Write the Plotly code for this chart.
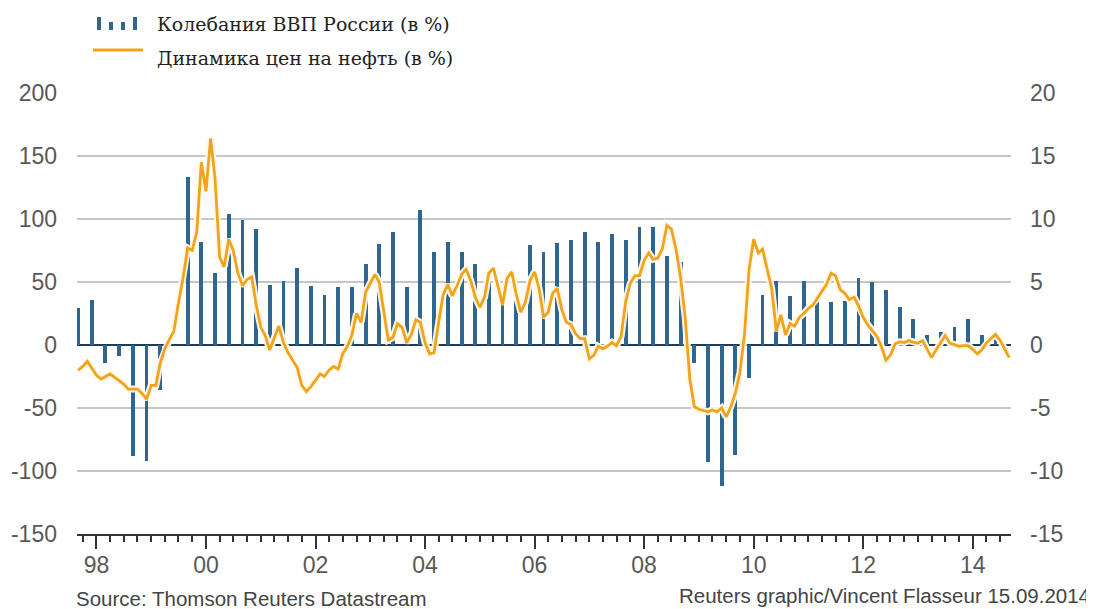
import pandas as pd
import plotly.graph_objects as go

# ---------------- data ----------------
# Quarterly Russian GDP change (%), Q3 1997 .. Q2 2014 (right axis)
gdp_start = "1997-09-01"
gdp_values = [
    2.9, 3.6,
    -1.4, -0.9, -8.8, -9.2,
    -3.6, 0.0, 13.3, 8.2,
    5.7, 10.4, 9.9, 9.2,
    4.8, 5.1, 6.1, 4.7,
    4.0, 4.6, 4.6, 6.4,
    8.0, 9.0, 4.6, 10.7,
    7.4, 8.2, 7.4, 6.4,
    5.0, 3.8, 3.5, 7.9,
    7.4, 8.1, 8.3, 9.0,
    8.2, 8.8, 8.3, 9.4,
    9.4, 7.1, 6.6, -1.4,
    -9.3, -11.2, -8.7, -2.6,
    4.0, 5.1, 3.9, 5.1,
    3.6, 3.4, 3.5, 5.3,
    5.0, 4.4, 3.0, 2.1,
    0.8, 1.0, 1.4, 2.1,
    0.8, 0.8,
]

# Monthly oil price change (%), Sep 1997 .. Sep 2014 (left axis)
oil_start = "1997-09-01"
oil_values = [
    -20, -17, -13, -18,
    -24, -27, -25, -23, -25.5, -28, -31, -35, -35, -35, -38.5, -43,
    -32, -32, -15, -3, 4, 11, 33, 53, 77, 75, 90, 145,
    122, 164, 133, 70, 62, 84, 75, 57, 47, 52, 54, 32,
    14, 7, -4, 6, 15, 2, -6, -12, -18, -32, -37, -33,
    -28, -23, -25, -20, -17, -19, -7, -1, 8, 25, 18, 42,
    49, 56, 50, 28, 4, 6, 17, 14, 2, 8, 20, 18,
    2, -7, -6, 18, 40, 48, 39, 47, 56, 60, 51, 38,
    30, 38, 57, 61, 46, 32, 53, 58, 40, 26, 34, 51,
    58, 44, 22, 26, 41, 45, 28, 18, 16, 9, 5, 5,
    -11, -8, -1, -3, -1, 2, -0.5, 7, 35, 49, 55, 55,
    67, 73, 68, 69, 76, 95, 92, 76, 53, 22, -27, -49,
    -51, -52, -53, -51.5, -53, -50, -57, -49, -38, -22, 9, 60,
    84, 73, 76, 60, 45, 11, 24, 8, 17, 15, 22, 25,
    29, 32, 37, 42, 48, 57, 55, 44, 41, 36, 38, 31,
    22, 16, 12, 7, -1, -12, -8, 1, 2.5, 2, 3.5, 2,
    1.5, 3.5, -3, -10, -4, 2, 7.5, 1.5, 0, -1, -0.5, -0.5,
    -3.5, -7, -4, 1.5, 5, 8.5, 4, -3, -10,
]

left_ticks = [-150, -100, -50, 0, 50, 100, 150, 200]
right_ticks = [-15, -10, -5, 0, 5, 10, 15, 20]

legend_gdp = "Колебания ВВП России (в %)"
legend_oil = "Динамика цен на нефть (в %)"
source_text = "Source: Thomson Reuters Datastream"
credit_text = "Reuters graphic/Vincent Flasseur 15.09.2014"

gdp_dates = pd.date_range(gdp_start, periods=len(gdp_values), freq="3MS")
oil_dates = pd.date_range(oil_start, periods=len(oil_values), freq="MS")

# ---------------- styles ----------------
BAR_COLOR = "#2f6690"
OIL_COLOR = "#f2a31b"
TICK_FONT = dict(family="Liberation Sans, Arial, sans-serif", size=23, color="#585858")
GRID = "#c6c6c6"

# the page has an 8px body margin, so the figure is 8px smaller on each axis
FIG_W, FIG_H = 1086, 601
PLOT_L, PLOT_T, PLOT_W, PLOT_H = 69, 85, 934, 441


def px(xp):
    """page x (reference pixels) -> paper fraction"""
    return (xp - 8 - PLOT_L) / PLOT_W


def py(yp):
    """page y (reference pixels) -> paper fraction"""
    return (PLOT_T + PLOT_H - (yp - 8)) / PLOT_H


fig = go.Figure()

fig.add_trace(go.Bar(
    x=gdp_dates, y=gdp_values, yaxis="y",
    marker=dict(color=BAR_COLOR, line=dict(width=0)),
    width=2.2e9, name=legend_gdp, showlegend=False,
))

# light halo under the oil line
fig.add_trace(go.Scatter(
    x=oil_dates, y=oil_values, yaxis="y2", mode="lines",
    line=dict(color="rgba(255,250,235,0.95)", width=7),
    hoverinfo="skip", showlegend=False,
))
fig.add_trace(go.Scatter(
    x=oil_dates, y=oil_values, yaxis="y2", mode="lines",
    line=dict(color=OIL_COLOR, width=2.8),
    name=legend_oil, showlegend=False,
))

fig.update_layout(
    width=FIG_W, height=FIG_H, autosize=False,
    margin=dict(l=PLOT_L, r=FIG_W - PLOT_L - PLOT_W, t=PLOT_T, b=FIG_H - PLOT_T - PLOT_H),
    plot_bgcolor="white", paper_bgcolor="white",
    bargap=0,
    xaxis=dict(
        type="date", automargin=False,
        range=["1997-08-24", "2014-09-13"],
        tick0="1998-01-01", dtick="M24", tickformat="%y",
        ticks="outside", ticklen=13, tickwidth=1.5, tickcolor="#333333",
        showline=True, linecolor="#333333", linewidth=1.5,
        showgrid=False, zeroline=False,
        tickfont=TICK_FONT, ticklabelstandoff=-3,
        minor=dict(dtick="M3", tick0="1998-01-01", ticks="outside", ticklen=6,
                   tickwidth=1.5, tickcolor="#333333", showgrid=False),
    ),
    yaxis=dict(
        side="right", range=[-15, 20], tickvals=right_ticks, automargin=False,
        ticktext=[str(v) for v in right_ticks],
        showgrid=True, gridcolor=GRID, gridwidth=1.6,
        zeroline=True, zerolinecolor="#1f3b57", zerolinewidth=1.6,
        showline=False, ticks="", tickfont=TICK_FONT, ticklabelstandoff=18,
    ),
    yaxis2=dict(
        side="left", overlaying="y", range=[-150, 200], tickvals=left_ticks,
        automargin=False,
        ticktext=[str(v) for v in left_ticks],
        showgrid=False, zeroline=False, showline=False, ticks="",
        tickfont=TICK_FONT, ticklabelstandoff=19,
    ),
    showlegend=False,
)

# custom legend (icons + text)
icon_bars = [(97, 17), (109, 22), (121, 22), (133, 17)]
for x0, ytop in icon_bars:
    fig.add_shape(type="rect", xref="paper", yref="paper",
                  x0=px(x0), x1=px(x0 + 4),
                  y0=py(30), y1=py(ytop),
                  fillcolor=BAR_COLOR, line=dict(width=0))
fig.add_shape(type="line", xref="paper", yref="paper",
              x0=px(93), x1=px(143), y0=py(50), y1=py(50),
              line=dict(color=OIL_COLOR, width=3))

LEG_FONT = dict(family="DejaVu Serif, serif", size=19, color="#222222")
fig.add_annotation(text=legend_gdp, xref="paper", yref="paper",
                   x=px(155), y=py(24),
                   xanchor="left", yanchor="middle", showarrow=False, font=LEG_FONT)
fig.add_annotation(text=legend_oil, xref="paper", yref="paper",
                   x=px(155), y=py(58),
                   xanchor="left", yanchor="middle", showarrow=False, font=LEG_FONT)

FOOT_FONT = dict(family="Liberation Sans, Arial, sans-serif", size=20.5, color="#444444")
fig.add_annotation(text=source_text, xref="paper", yref="paper",
                   x=px(74), y=py(598),
                   xanchor="left", yanchor="middle", showarrow=False, font=FOOT_FONT)
fig.add_annotation(text=credit_text, xref="paper", yref="paper",
                   x=px(1092), y=py(595),
                   xanchor="right", yanchor="middle", showarrow=False, font=FOOT_FONT)

fig.write_html("out.html")
